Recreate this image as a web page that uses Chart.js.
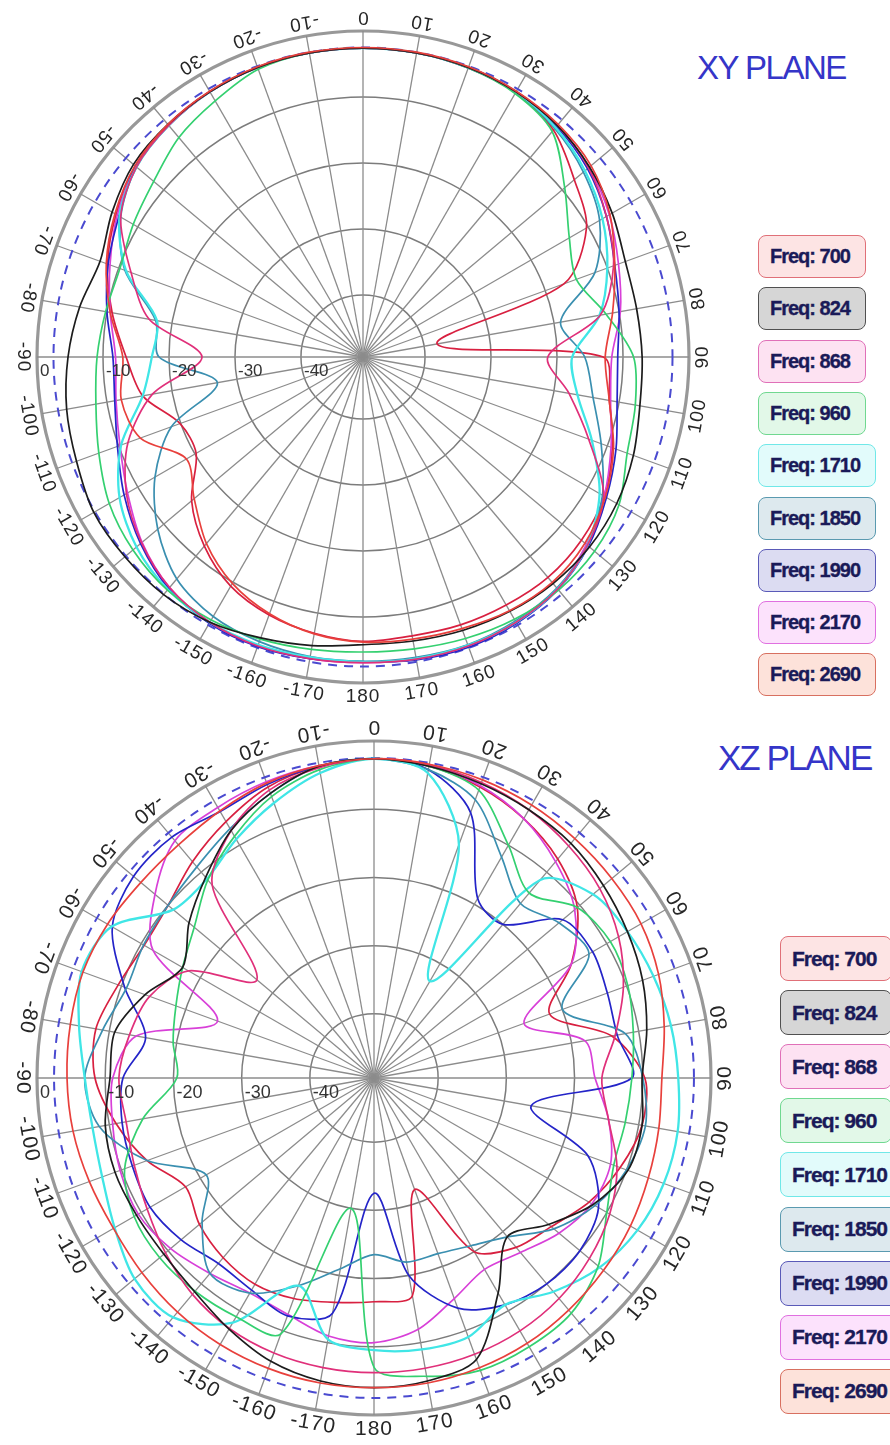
<!DOCTYPE html>
<html>
<head>
<meta charset="utf-8">
<script src="https://cdn.jsdelivr.net/npm/chart.js@4.4.1/dist/chart.umd.min.js"></script>
<style>
  html, body { margin: 0; padding: 0; background: #fff; }
  body { width: 890px; height: 1445px; position: relative; overflow: hidden; font-family: "Liberation Sans", Arial, sans-serif; }
  canvas { position: absolute; left: 0; }
  #xyChart { top: 0; }
  #xzChart { top: 704px; }
  .title { position: absolute; color: #3535c8; white-space: nowrap; line-height: 1; }
  .item { position: absolute; box-sizing: border-box; display: flex; align-items: center;
          padding: 0 15px 0 11px; border: 1.6px solid; border-radius: 8px; white-space: nowrap;
          font-weight: bold; color: #1a1a58; -webkit-text-stroke: 0.35px #1a1a58; }
</style>
</head>
<body>
<div class="title" style="left:697px; top:51px; font-size:33px; letter-spacing:-1.5px;">XY PLANE</div>
<div class="title" style="left:718px; top:740px; font-size:35px; letter-spacing:-2px;">XZ PLANE</div>
<canvas id="xyChart" width="726" height="714"></canvas>
<canvas id="xzChart" width="748" height="748"></canvas>
<div id="xyLegend"></div>
<div id="xzLegend"></div>
<script>
// angle labels, clockwise from the top, 10 degree steps
const angleLabels = ['0','10','20','30','40','50','60','70','80','90','100','110','120','130','140','150','160','170','180',
  '-170','-160','-150','-140','-130','-120','-110','-100','-90','-80','-70','-60','-50','-40','-30','-20','-10'];
const ringLabels = [0, -10, -20, -30, -40];
const refRing = -2.5;

const freqNames = ['Freq: 700', 'Freq: 824', 'Freq: 868', 'Freq: 960', 'Freq: 1710', 'Freq: 1850', 'Freq: 1990', 'Freq: 2170', 'Freq: 2690'];
const lineColors = ['#e8403c', '#1c1c1c', '#e0307a', '#34d070', '#40e6e6', '#3a8fb0', '#2424c8', '#d840d8', '#d82040'];
const boxBorders = ['#e07078', '#505050', '#e070b8', '#70d890', '#70e8e8', '#5a9ab0', '#5a5ab8', '#e070e0', '#d87060'];
const boxFills = ['#fde4e4', '#d6d6d6', '#fde2f2', '#e2f8e8', '#e2fbfb', '#dde9ee', '#dcdcf2', '#fce2fc', '#fde2da'];

// XY plane, dB
const xy700  = [-2.5,-2.5,-2.6,-2.9,-3.4,-4.3,-6.2,-8.8,-11.0,-12.7,-11.5,-9.0,-7.0,-5.5,-4.8,-5.0,-5.6,-6.0,-6.2,
  -6.8,-8.0,-9.8,-12.5,-16.0,-18.5,-13.5,-12.2,-13.0,-10.5,-8.0,-6.0,-4.3,-3.4,-2.9,-2.6,-2.5];
const xy824  = [-2.6,-2.6,-2.7,-3.0,-3.6,-4.6,-5.8,-7.1,-7.3,-7.1,-6.8,-5.8,-5.0,-4.6,-4.6,-4.9,-5.3,-5.7,-5.8,
  -5.0,-4.1,-3.0,-2.4,-2.3,-2.3,-3.2,-3.8,-4.7,-5.8,-7.0,-5.5,-4.0,-3.4,-3.0,-2.7,-2.6];
const xy868  = [-2.6,-2.6,-2.7,-3.0,-3.6,-4.8,-6.8,-9.0,-12.9,-21.4,-17.7,-13.0,-7.3,-5.0,-3.5,-3.0,-2.8,-2.9,-3.1,
  -3.0,-2.8,-3.0,-3.8,-5.6,-8.0,-11.5,-17.0,-25.0,-16.5,-12.0,-7.0,-4.6,-3.6,-3.0,-2.7,-2.6];
const xy960  = [-2.6,-2.6,-2.8,-3.3,-4.8,-9.5,-13.3,-15.0,-12.0,-8.4,-7.5,-6.8,-4.6,-3.6,-3.3,-3.5,-4.0,-4.5,-4.7,
  -4.4,-3.9,-3.4,-3.3,-3.9,-5.0,-6.8,-8.3,-9.1,-9.8,-10.2,-9.2,-8.0,-6.0,-4.6,-3.0,-2.6];
const xy1710 = [-2.6,-2.6,-2.7,-3.0,-4.0,-5.5,-7.5,-10.0,-13.0,-17.7,-16.4,-12.5,-8.0,-5.0,-3.5,-3.0,-2.9,-3.0,-3.2,
  -3.2,-3.0,-3.0,-3.4,-4.6,-6.8,-10.4,-15.5,-17.4,-17.7,-11.2,-6.8,-4.6,-3.6,-3.0,-2.7,-2.6];
const xy1850 = [-2.6,-2.6,-2.7,-3.1,-4.2,-5.8,-8.0,-12.0,-19.0,-15.8,-14.0,-11.0,-7.5,-5.0,-3.7,-3.2,-3.0,-3.2,-3.3,
  -3.3,-3.5,-4.0,-5.5,-8.8,-13.0,-18.5,-27.0,-18.5,-17.5,-11.0,-7.0,-4.6,-3.6,-3.0,-2.7,-2.6];
const xy1990 = [-2.6,-2.6,-2.8,-3.1,-3.8,-5.0,-6.8,-8.8,-10.0,-10.8,-10.3,-8.6,-6.8,-4.8,-3.4,-2.8,-2.6,-2.8,-3.2,
  -3.0,-2.7,-2.8,-3.6,-5.4,-7.6,-9.8,-11.2,-11.5,-10.0,-8.3,-6.7,-4.4,-3.6,-3.0,-2.7,-2.6];
const xy2170 = [-2.6,-2.6,-2.7,-3.0,-3.6,-4.7,-6.3,-8.2,-9.8,-11.7,-11.3,-9.4,-7.2,-5.2,-3.6,-3.0,-2.8,-2.9,-3.1,
  -3.0,-2.8,-2.9,-3.8,-5.7,-8.2,-10.2,-11.4,-11.9,-10.5,-8.6,-6.4,-4.5,-3.5,-3.0,-2.7,-2.6];
const xy2690 = [-2.6,-2.6,-2.7,-3.1,-4.5,-7.6,-10.3,-17.0,-38.0,-13.0,-11.5,-9.2,-7.2,-6.2,-5.8,-6.0,-6.2,-6.5,-6.3,
  -6.9,-7.8,-9.3,-12.0,-15.5,-20.2,-19.9,-15.5,-13.5,-10.8,-8.2,-6.2,-4.5,-3.5,-3.0,-2.7,-2.6];

// XZ plane, dB
const xz700  = [-2.6,-2.7,-2.9,-3.2,-3.6,-3.9,-4.2,-5.0,-6.2,-7.2,-7.0,-6.6,-6.0,-5.5,-5.0,-4.5,-4.2,-4.0,-4.0,
  -4.0,-4.1,-4.3,-4.6,-5.0,-5.3,-5.0,-4.6,-4.4,-4.2,-4.0,-4.3,-4.8,-4.8,-4.2,-3.4,-2.9];
const xz824  = [-2.6,-3.0,-3.5,-4.0,-4.5,-5.5,-6.5,-7.5,-8.8,-10.1,-9.5,-9.8,-12.3,-16.0,-19.0,-13.0,-5.5,-4.3,-4.0,
  -4.3,-5.2,-6.9,-8.5,-9.2,-9.2,-9.0,-9.4,-10.7,-10.8,-13.7,-17.0,-14.0,-11.0,-7.5,-5.0,-3.0];
const xz868  = [-2.6,-2.8,-3.3,-4.0,-5.0,-6.2,-8.0,-10.5,-13.5,-16.0,-14.5,-11.5,-9.5,-8.2,-7.2,-6.6,-6.3,-6.2,-6.2,
  -6.3,-6.5,-7.0,-8.0,-9.5,-11.0,-12.0,-12.5,-12.0,-13.0,-14.4,-18.0,-27.0,-12.5,-7.5,-4.5,-3.2];
const xz960  = [-2.6,-3.0,-4.5,-10.0,-14.0,-10.5,-9.4,-9.8,-10.8,-11.6,-12.0,-12.0,-10.0,-6.5,-4.4,-3.9,-3.8,-5.0,-7.0,
  -30.0,-9.5,-9.0,-8.6,-8.4,-8.8,-10.5,-15.0,-20.5,-19.5,-18.5,-17.0,-15.0,-11.5,-8.5,-5.5,-3.5];
const xz1710 = [-2.6,-4.0,-13.0,-33.0,-11.5,-7.5,-6.5,-5.8,-5.2,-4.8,-4.2,-4.2,-4.8,-6.2,-8.5,-11.0,-9.0,-9.0,-9.5,
  -10.5,-17.0,-8.0,-3.6,-3.6,-5.5,-7.0,-7.5,-7.0,-5.5,-3.8,-5.0,-11.0,-11.3,-9.0,-6.5,-4.0];
const xz1850 = [-2.6,-3.5,-6.0,-12.0,-16.0,-14.0,-13.0,-20.0,-12.0,-10.0,-9.0,-10.0,-12.0,-15.0,-19.0,-21.0,-22.0,-22.0,-23.5,
  -21.0,-17.0,-13.0,-12.0,-16.5,-21.0,-14.0,-8.5,-7.0,-9.0,-10.8,-10.4,-10.0,-9.0,-7.2,-5.0,-3.0];
const xz1990 = [-2.6,-3.5,-8.0,-19.0,-20.0,-13.3,-12.4,-13.0,-13.2,-11.6,-26.0,-16.0,-11.4,-10.0,-10.0,-11.0,-13.5,-20.0,-32.5,
  -14.4,-12.3,-13.5,-13.9,-12.5,-11.5,-11.7,-11.9,-12.6,-15.4,-10.5,-5.1,-3.4,-3.3,-4.3,-3.6,-3.0];
const xz2170 = [-2.6,-2.9,-3.8,-5.5,-8.0,-11.0,-16.0,-26.0,-18.0,-17.0,-14.5,-12.5,-12.5,-14.0,-16.0,-17.0,-15.0,-12.0,-10.6,
  -11.0,-12.5,-13.0,-12.0,-10.5,-9.5,-9.8,-10.5,-11.1,-14.0,-25.0,-12.0,-7.5,-4.0,-3.6,-3.2,-2.9];
const xz2690 = [-2.6,-3.0,-4.0,-5.5,-7.5,-10.5,-16.0,-22.0,-14.0,-9.7,-9.5,-11.0,-13.0,-15.5,-17.0,-20.0,-32.0,-17.0,-16.6,
  -16.0,-15.0,-14.5,-15.0,-16.0,-17.5,-14.0,-11.0,-8.5,-8.0,-9.5,-10.5,-10.0,-8.0,-6.0,-4.0,-3.0];

const xySeries = [xy700, xy824, xy868, xy960, xy1710, xy1850, xy1990, xy2170, xy2690];
const xzSeries = [xz700, xz824, xz868, xz960, xz1710, xz1850, xz1990, xz2170, xz2690];

// dashed reference ring, rotated angle labels and the dB labels on the left axis
const polarDecor = {
  id: 'polarDecor',
  beforeDatasetsDraw(chart, args, opts) {
    const s = chart.scales.r;
    const ctx = chart.ctx;
    ctx.save();
    ctx.strokeStyle = '#4a4ad0';
    ctx.lineWidth = 2;
    ctx.setLineDash([9, 7]);
    ctx.beginPath();
    ctx.arc(s.xCenter, s.yCenter, s.getDistanceFromCenterForValue(refRing), 0, Math.PI * 2);
    ctx.stroke();
    ctx.restore();
  },
  afterDraw(chart, args, opts) {
    const s = chart.scales.r;
    const ctx = chart.ctx;
    ctx.save();
    ctx.fillStyle = '#262626';
    ctx.textAlign = 'center';
    ctx.textBaseline = 'middle';
    ctx.font = opts.angleFont + 'px "Liberation Sans", Arial, sans-serif';
    ctx.letterSpacing = '1px';
    chart.data.labels.forEach((lab, i) => {
      const p = s.getPointPosition(i, s.drawingArea + opts.gap);
      ctx.save();
      ctx.translate(p.x, p.y);
      ctx.rotate(s.getIndexAngle(i) + Math.PI);
      ctx.fillText(lab, 0, 0);
      ctx.restore();
    });
    ctx.letterSpacing = '0px';
    ctx.textAlign = 'left';
    ctx.textBaseline = 'top';
    ctx.font = opts.ringFont + 'px "Liberation Sans", Arial, sans-serif';
    ctx.fillStyle = '#333';
    ringLabels.forEach(v => {
      const d = s.getDistanceFromCenterForValue(v);
      ctx.fillText(String(v), s.xCenter - d + 3, s.yCenter + 6);
    });
    ctx.restore();
  }
};

function makeChart(id, series, pad, angleFont, ringFont) {
  new Chart(document.getElementById(id), {
    type: 'radar',
    data: {
      labels: angleLabels,
      datasets: series.map((vals, i) => ({
        label: freqNames[i],
        data: vals,
        borderColor: lineColors[i],
        borderWidth: i === 4 ? 2.3 : 1.7,
        fill: false,
        pointRadius: 0,
        tension: 0.3
      }))
    },
    options: {
      responsive: false,
      animation: false,
      layout: { padding: pad },
      plugins: {
        legend: { display: false },
        tooltip: { enabled: false },
        polarDecor: { angleFont: angleFont, ringFont: ringFont, gap: 14 }
      },
      scales: {
        r: {
          min: -49.4,
          max: 0,
          startAngle: 0,
          ticks: { display: false, stepSize: 10 },
          pointLabels: { display: false },
          grid: {
            circular: true,
            color: ctx => ctx.tick && ctx.tick.value === 0 ? '#989898' : '#7c7c7c',
            lineWidth: ctx => ctx.tick && ctx.tick.value === 0 ? 3.2 : 1.5
          },
          angleLines: { color: '#8c8c8c', lineWidth: 1.3 }
        }
      }
    },
    plugins: [polarDecor]
  });
}

makeChart('xyChart', xySeries, { left: 37, right: 37, top: 31, bottom: 31 }, 19, 17);
makeChart('xzChart', xzSeries, { left: 37, right: 37, top: 37, bottom: 37 }, 21, 18);

function makeLegend(holderId, left, top0, step, h, fontSize) {
  const holder = document.getElementById(holderId);
  freqNames.forEach((name, i) => {
    const d = document.createElement('div');
    d.className = 'item';
    d.textContent = name;
    d.style.left = left + 'px';
    d.style.top = (top0 + i * step) + 'px';
    d.style.height = h + 'px';
    d.style.fontSize = fontSize + 'px';
    d.style.letterSpacing = '-1px';
    d.style.borderColor = boxBorders[i];
    d.style.background = boxFills[i];
    holder.appendChild(d);
  });
}
makeLegend('xyLegend', 758, 235, 52.3, 43, 20);
makeLegend('xzLegend', 780, 936, 54.1, 45, 21);
</script>
</body>
</html>
